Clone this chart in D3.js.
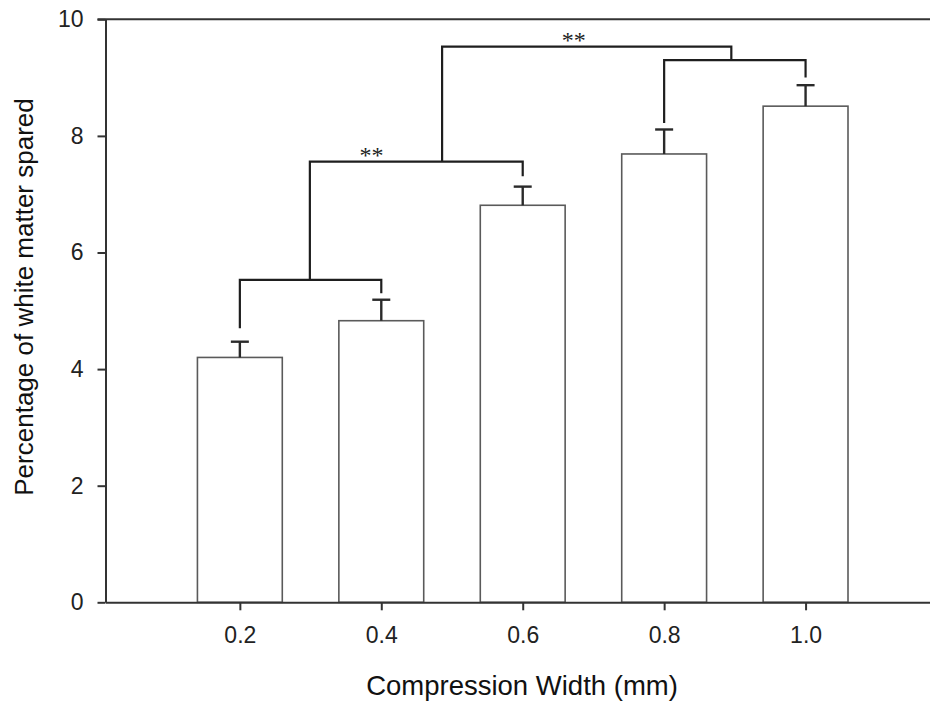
<!DOCTYPE html>
<html>
<head>
<meta charset="utf-8">
<script src="https://cdn.jsdelivr.net/npm/d3@7"></script>
<style>
  body { margin: 0; background: #fff; }
  svg { display: block; }
</style>
</head>
<body>
<script>
// chart values
const widths = [0.2, 0.4, 0.6, 0.8, 1.0];
const means = [4.2, 4.83, 6.81, 7.69, 8.51];
const errors = [0.27, 0.36, 0.32, 0.42, 0.36];
const yTicks = [0, 2, 4, 6, 8, 10];
const xTickLabels = ["0.2", "0.4", "0.6", "0.8", "1.0"];

// significance brackets: x from, x to, height, leg ends, label
const bracketX1 = [0.2, 0.299, 0.8, 0.486];
const bracketX2 = [0.4, 0.6, 1.0, 0.895];
const bracketY = [5.53, 7.56, 9.3, 9.53];
const bracketLeft = [4.7, 5.53, 8.22, 7.56];
const bracketRight = [5.3, 7.31, 9.0, 9.3];
const bracketLabel = ["", "**", "", "**"];
const bracketLabelX = [0, 0.386, 0, 0.672];

width = 930;
height = 702;
bar_w = 0.12; // bar width in data units
cap_w = 18;

const svg = d3
  .select("body")
  .append("svg")
  .attr("width", width)
  .attr("height", height)
  .attr("viewBox", [0, 0, width, height]);

svg.append("rect").attr("width", width).attr("height", height).attr("fill", "#fff");

x = d3.scaleLinear().domain([0.01, 1.2]).range([105.5, 947]);
y = d3.scaleLinear().domain([0, 10]).range([602.3, 19.3]);

// bars
svg
  .append("g")
  .selectAll("rect")
  .data(widths)
  .join("rect")
  .attr("x", (d) => x(d - bar_w / 2))
  .attr("width", (d) => x(d + bar_w / 2) - x(d - bar_w / 2))
  .attr("y", (d, i) => y(means[i]))
  .attr("height", (d, i) => y(0) - y(means[i]))
  .attr("fill", "#fff")
  .attr("stroke", "#5a5a5a")
  .attr("stroke-width", 1.6);

// error bars
const err = svg.append("g").attr("stroke", "#2a2a2a").attr("stroke-width", 2.4);
err
  .selectAll("line.v")
  .data(widths)
  .join("line")
  .attr("class", "v")
  .attr("x1", (d) => x(d))
  .attr("x2", (d) => x(d))
  .attr("y1", (d, i) => y(means[i]))
  .attr("y2", (d, i) => y(means[i] + errors[i]));
err
  .selectAll("line.c")
  .data(widths)
  .join("line")
  .attr("class", "c")
  .attr("x1", (d) => x(d) - cap_w / 2)
  .attr("x2", (d) => x(d) + cap_w / 2)
  .attr("y1", (d, i) => y(means[i] + errors[i]))
  .attr("y2", (d, i) => y(means[i] + errors[i]));

// brackets
const br = svg.append("g");
br.selectAll("path")
  .data(bracketY)
  .join("path")
  .attr("fill", "none")
  .attr("stroke", "#1e1e1e")
  .attr("stroke-width", 2.2)
  .attr("d", (d, i) => {
    const p = d3.path();
    p.moveTo(x(bracketX1[i]), y(bracketLeft[i]));
    p.lineTo(x(bracketX1[i]), y(d));
    p.lineTo(x(bracketX2[i]), y(d));
    p.lineTo(x(bracketX2[i]), y(bracketRight[i]));
    return p.toString();
  });
br.selectAll("text")
  .data(bracketY)
  .join("text")
  .attr("x", (d, i) => x(bracketLabelX[i]))
  .attr("y", (d) => y(d) + 1)
  .attr("text-anchor", "middle")
  .attr("font-family", "Liberation Serif, serif")
  .attr("font-size", 24)
  .attr("fill", "#222")
  .text((d, i) => bracketLabel[i]);

// axes
const xAxis = d3
  .axisBottom(x)
  .tickValues(widths)
  .tickFormat((d, i) => xTickLabels[i])
  .tickSize(8)
  .tickSizeOuter(0)
  .tickPadding(16);
const yAxis = d3.axisLeft(y).tickValues(yTicks).tickSize(8).tickSizeOuter(0).tickPadding(14);

const gX = svg.append("g").attr("transform", `translate(0,${y(0)})`).call(xAxis);
const gY = svg.append("g").attr("transform", `translate(${x(0.01)},0)`).call(yAxis);

[gX, gY].forEach((g) => {
  g.selectAll("path, line").attr("stroke", "#333").attr("stroke-width", 2);
  g.selectAll("text")
    .attr("font-family", "Liberation Sans, Arial, sans-serif")
    .attr("font-size", 23)
    .attr("fill", "#222");
});

// top frame line
svg
  .append("line")
  .attr("x1", x(0.01) - 8)
  .attr("x2", x(1.2))
  .attr("y1", y(10))
  .attr("y2", y(10))
  .attr("stroke", "#333")
  .attr("stroke-width", 2);

// axis titles
svg
  .append("text")
  .attr("x", 522)
  .attr("y", 695)
  .attr("text-anchor", "middle")
  .attr("font-family", "Liberation Sans, Arial, sans-serif")
  .attr("font-size", 27.5)
  .attr("fill", "#111")
  .text("Compression Width (mm)");

svg
  .append("text")
  .attr("transform", "translate(33,297) rotate(-90)")
  .attr("text-anchor", "middle")
  .attr("font-family", "Liberation Sans, Arial, sans-serif")
  .attr("font-size", 26)
  .attr("fill", "#111")
  .text("Percentage of white matter spared");
</script>
</body>
</html>
